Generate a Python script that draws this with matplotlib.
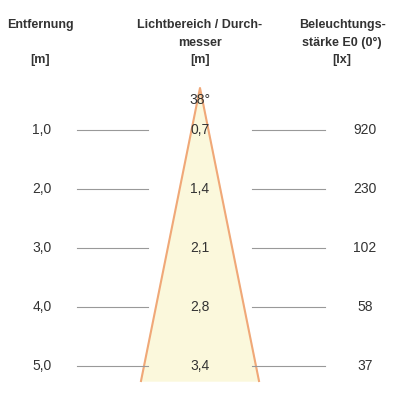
import matplotlib
matplotlib.use("Agg")
import matplotlib.pyplot as plt

distances = ["1,0", "2,0", "3,0", "4,0", "5,0"]
diameters = ["0,7", "1,4", "2,1", "2,8", "3,4"]
lux = ["920", "230", "102", "58", "37"]
angle_label = "38°"

plt.rcParams['font.family'] = ['Liberation Sans Narrow', 'Liberation Sans', 'DejaVu Sans']
fig = plt.figure(figsize=(4, 4), dpi=100)
ax = fig.add_axes([0, 0, 1, 1])
ax.set_xlim(0, 400); ax.set_ylim(400, 0); ax.axis('off')

tc = '#333333'
# cone
ax.fill([200, 141, 259], [88, 381, 381], color='#fbf8dc', zorder=1)
ax.plot([141, 200, 259], [381, 88, 381], color='#f0a878', lw=1.5, zorder=2)

# headers
ax.text(40, 25, "Entfernung", ha='center', va='center', fontsize=9, fontweight='bold', color=tc)
ax.text(40, 60, "[m]", ha='center', va='center', fontsize=9, fontweight='bold', color=tc)
ax.text(200, 25, "Lichtbereich / Durch-", ha='center', va='center', fontsize=9, fontweight='bold', color=tc)
ax.text(200, 43, "messer", ha='center', va='center', fontsize=9, fontweight='bold', color=tc)
ax.text(200, 60, "[m]", ha='center', va='center', fontsize=9, fontweight='bold', color=tc)
ax.text(342, 25, "Beleuchtungs-", ha='center', va='center', fontsize=9, fontweight='bold', color=tc)
ax.text(342, 43, "stärke E0 (0°)", ha='center', va='center', fontsize=9, fontweight='bold', color=tc)
ax.text(342, 60, "[lx]", ha='center', va='center', fontsize=9, fontweight='bold', color=tc)

ax.text(200, 100, angle_label, ha='center', va='center', fontsize=10, color=tc, zorder=3)

for i, (d, dm, lx) in enumerate(zip(distances, diameters, lux)):
    y = 130 + i * 59
    ax.text(42, y, d, ha='center', va='center', fontsize=10, color=tc)
    ax.text(200, y, dm, ha='center', va='center', fontsize=10, color=tc, zorder=3)
    ax.text(365, y, lx, ha='center', va='center', fontsize=10, color=tc)
    ax.plot([77, 148], [y, y], color='#999999', lw=0.8)
    ax.plot([252, 325], [y, y], color='#999999', lw=0.8)

fig.savefig("out.png", dpi=100)
